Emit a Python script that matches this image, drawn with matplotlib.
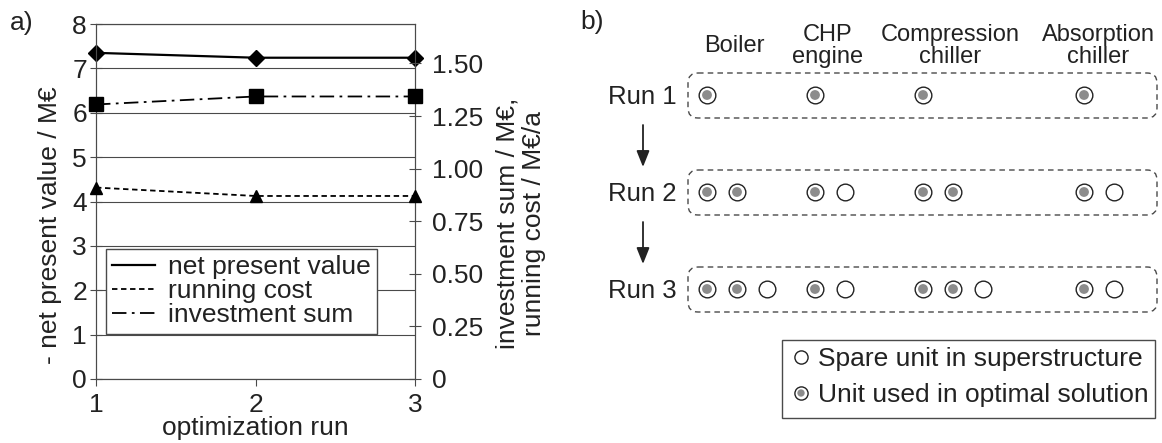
import matplotlib.pyplot as plt
from matplotlib.lines import Line2D
from matplotlib.patches import FancyBboxPatch, Rectangle

plt.rcParams['font.family'] = ['Liberation Sans', 'DejaVu Sans']

# ---- panel a data ----
runs = [1, 2, 3]
net_present_value = [7.35, 7.24, 7.24]      # left axis, M€
running_cost = [0.91, 0.87, 0.87]           # right axis, M€/a
investment_sum = [1.305, 1.343, 1.343]      # right axis, M€

left_ticks = [0, 1, 2, 3, 4, 5, 6, 7, 8]
right_ticks = [0, 0.25, 0.5, 0.75, 1.0, 1.25, 1.5]
right_tick_labels = ["0", "0.25", "0.50", "0.75", "1.00", "1.25", "1.50"]
legend_a_labels = ["net present value", "running cost", "investment sum"]

# ---- panel b data ----
unit_types = ["Boiler", "CHP\nengine", "Compression\nchiller", "Absorption\nchiller"]
run_labels = ["Run 1", "Run 2", "Run 3"]
# 1 = unit used in optimal solution, 0 = spare unit in superstructure
run1_units = [[1], [1], [1], [1]]
run2_units = [[1, 1], [1, 0], [1, 1], [1, 0]]
run3_units = [[1, 1, 0], [1, 0], [1, 1, 0], [1, 0]]
legend_b_labels = ["Spare unit in superstructure", "Unit used in optimal solution"]

TXT = '#222222'
EDGE = '#4a4a4a'
GRAY_FILL = '#8c8c8c'
W, H = 1162, 443

fig = plt.figure(figsize=(W / 100, H / 100), dpi=100)

# ================= panel a =================
ax = fig.add_axes([96 / W, 1 - 379 / H, (415 - 96) / W, (379 - 24) / H])
ax.set_xlim(1, 3)
ax.set_ylim(0, 8)
ax.set_xticks(runs)
ax.set_yticks(left_ticks)
ax.yaxis.grid(True, color=EDGE, lw=0.8)
ax.set_axisbelow(True)
for s in ax.spines.values():
    s.set_color(EDGE)
ax.tick_params(axis='y', direction='inout', length=9, pad=2, labelsize=19,
               color=EDGE, labelcolor=TXT)
ax.tick_params(axis='x', direction='out', length=5, pad=5, labelsize=19,
               color=EDGE, labelcolor=TXT)

ax2 = ax.twinx()
ax2.set_ylim(0, 1.6875)
ax2.set_yticks(right_ticks, labels=right_tick_labels)
ax2.tick_params(axis='y', direction='inout', length=9, pad=8, labelsize=19,
                color=EDGE, labelcolor=TXT)
for s in ax2.spines.values():
    s.set_color(EDGE)

ls_run = (0, (3, 2))
ls_inv = (0, (8, 3, 1.5, 3))

ax.plot(runs, net_present_value, color='k', lw=1.6, marker='D', ms=8.5,
        clip_on=False, zorder=5)
ax2.plot(runs, running_cost, color='k', lw=1.3, ls=ls_run, marker='^', ms=8,
         clip_on=False, zorder=5)
ax2.plot(runs, investment_sum, color='k', lw=1.3, ls=ls_inv, marker='s', ms=9.5,
         clip_on=False, zorder=5)

handles = [Line2D([], [], color='k', lw=1.6),
           Line2D([], [], color='k', lw=1.3, ls=ls_run),
           Line2D([], [], color='k', lw=1.3, ls=ls_inv)]
leg = ax.legend(handles, legend_a_labels, loc='lower left',
                bbox_to_anchor=(0.031, 0.127), fontsize=19, frameon=True,
                fancybox=False, edgecolor=EDGE, framealpha=1, borderpad=0.25,
                labelspacing=0, handlelength=1.6, handletextpad=0.5,
                borderaxespad=0)
leg.get_frame().set_linewidth(1.0)
for t in leg.get_texts():
    t.set_color(TXT)

ax.set_xlabel("optimization run", fontsize=19, color=TXT)
ax.xaxis.set_label_coords(0.5, -0.104)
ax.set_ylabel("- net present value / M€", fontsize=19, color=TXT, va='center')
ax.yaxis.set_label_coords(-0.144, 0.434)
ax2.set_ylabel("investment sum / M€,\nrunning cost / M€/a", fontsize=19,
               color=TXT, va='center', ha='center', linespacing=1.15)
ax2.yaxis.set_label_coords(1.332, 0.439)

fig.text(10 / W, 1 - 23 / H, "a)", fontsize=19, color=TXT, va='center')
fig.text(580 / W, 1 - 22 / H, "b)", fontsize=19, color=TXT, va='center')

# ================= panel b =================
axb = fig.add_axes([560 / W, 0, (W - 560) / W, 1])
axb.set_xlim(560, W)
axb.set_ylim(H, 0)
axb.axis('off')

header_x = [734, 828, 950, 1098]
group_x = [707, 815, 923, 1084]
unit_step = 30
rows_y = [95, 192, 289]

for hx, name in zip(header_x, unit_types):
    axb.text(hx, 46, name, fontsize=17, color=TXT, ha='center', va='center',
             linespacing=1.0)

used_x, used_y, spare_x, spare_y = [], [], [], []
for label, ry, units in zip(run_labels, rows_y, [run1_units, run2_units, run3_units]):
    axb.text(677, ry + 2, label, fontsize=18.5, color=TXT, ha='right', va='center')
    axb.add_patch(FancyBboxPatch((688, ry - 22), 469, 45,
                                 boxstyle='round,pad=0,rounding_size=10',
                                 fill=False, ec=EDGE, lw=1.0, ls=(0, (4, 3))))
    for gx, flags in zip(group_x, units):
        for k, used in enumerate(flags):
            if used:
                used_x.append(gx + k * unit_step)
                used_y.append(ry)
            else:
                spare_x.append(gx + k * unit_step)
                spare_y.append(ry)

axb.scatter(used_x, used_y, s=144, facecolor='white', edgecolor=TXT, lw=1.0, zorder=3)
axb.scatter(used_x, used_y, s=50, facecolor=GRAY_FILL, edgecolor='none', zorder=4)
axb.scatter(spare_x, spare_y, s=144, facecolor='white', edgecolor=TXT, lw=1.0, zorder=3)

for i in range(len(rows_y) - 1):
    y0 = rows_y[i] + 30
    axb.annotate('', xy=(643, y0 + 42), xytext=(643, y0),
                 arrowprops=dict(arrowstyle='-|>,head_length=0.7,head_width=0.28',
                                 color=TXT, lw=1.3, mutation_scale=14,
                                 shrinkA=0, shrinkB=0))

# legend of panel b
axb.add_patch(Rectangle((782, 340), 373, 78, fill=False, ec=EDGE, lw=1.0))
axb.scatter([801], [357], s=90, facecolor='white', edgecolor=TXT, lw=1.0, zorder=3)
axb.scatter([801], [393], s=90, facecolor='white', edgecolor=TXT, lw=1.0, zorder=3)
axb.scatter([801], [393], s=28, facecolor=GRAY_FILL, edgecolor='none', zorder=4)
axb.text(818, 366, legend_b_labels[0], fontsize=19, color=TXT, va='baseline')
axb.text(818, 402, legend_b_labels[1], fontsize=19, color=TXT, va='baseline')

fig.savefig('out.png', dpi=100)
